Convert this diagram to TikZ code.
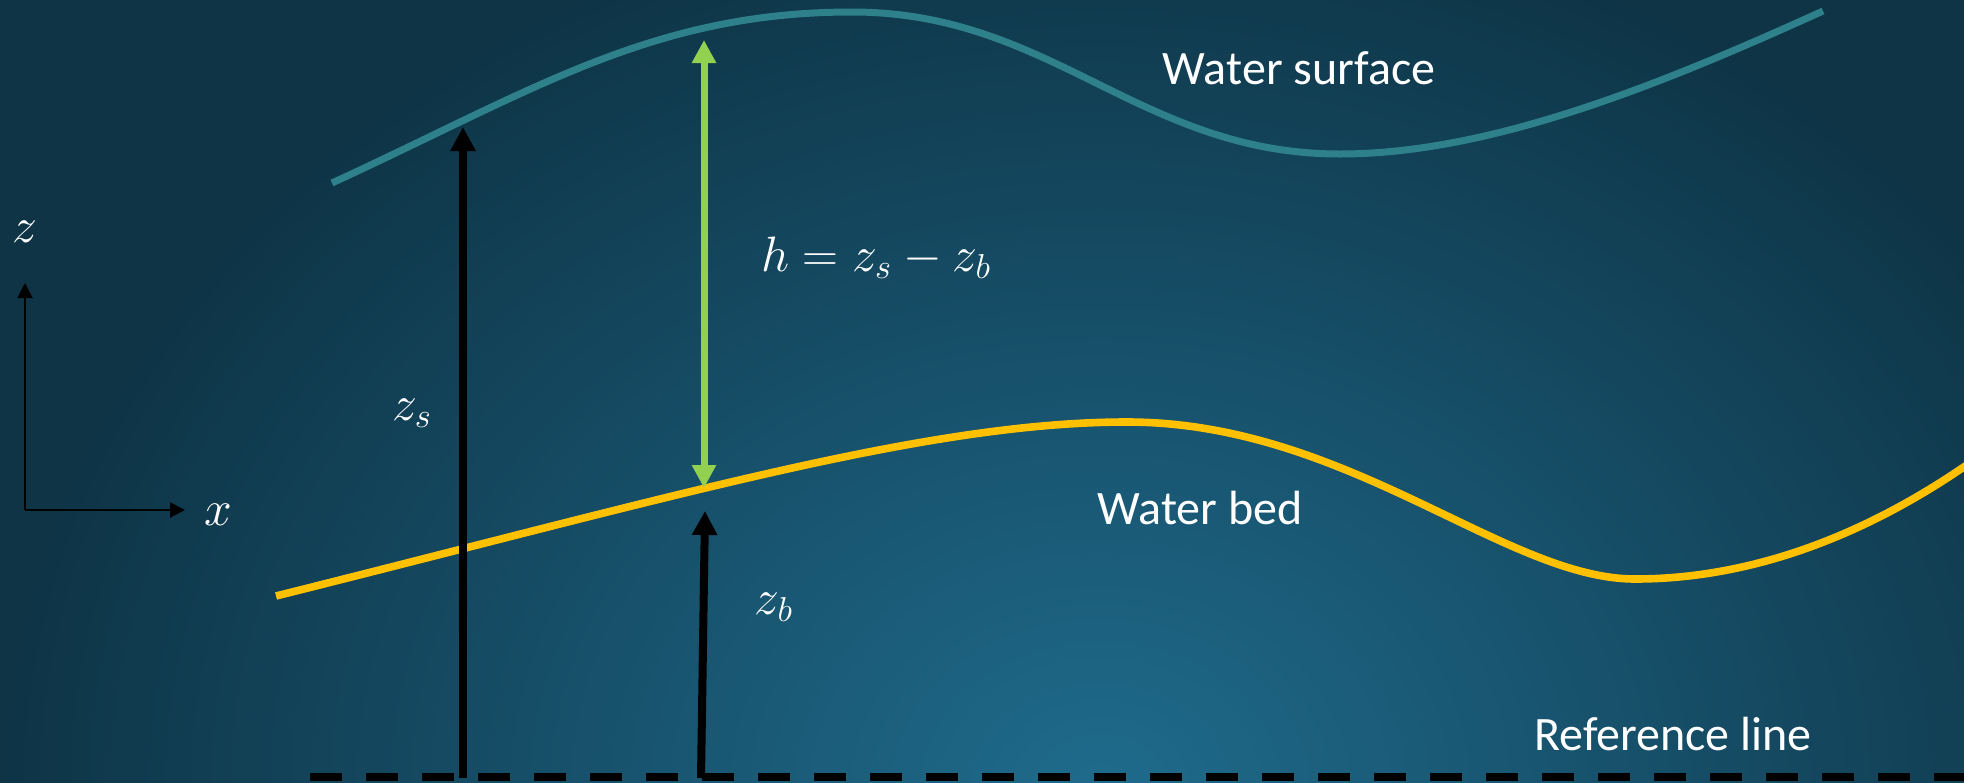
\documentclass[tikz,border=0pt]{standalone}
\usepackage{fontspec}
\setmainfont{Carlito}
\usetikzlibrary{arrows.meta}
\definecolor{bgdark}{RGB}{14,52,70}
\definecolor{bglight}{RGB}{31,107,140}
\definecolor{surfteal}{RGB}{46,128,138}
\definecolor{bedyellow}{RGB}{255,192,0}
\definecolor{hgreen}{RGB}{146,208,80}

\begin{document}
\begin{tikzpicture}[
        x=0.5pt, y=-0.5pt,
        wtext/.style={text=white, font=\fontsize{24}{28}\selectfont, anchor=base, inner sep=0pt},
        wmath/.style={text=white, font=\fontsize{25}{29}\selectfont, anchor=base, inner sep=0pt},
        surface/.style={draw=surfteal, line width=3.5pt},
        bed/.style={draw=bedyellow, line width=3.8pt},
        height/.style={-{Triangle[width=12pt, length=12pt]}, line width=4pt, draw=black},
        depth/.style={{Triangle[width=11.5pt, length=11.5pt]}-{Triangle[width=11.5pt, length=11.5pt]}, line width=3.5pt, draw=hgreen},
        axis/.style={-{Triangle[width=7.5pt, length=7.5pt]}, line width=1pt, draw=black},
        refline/.style={draw=black, line width=4pt, dash pattern=on 16pt off 12pt}
    ]
        \useasboundingbox (0,0) rectangle (1964,782);
        \begin{scope}
            \clip (0,0) rectangle (1964,782);
            \shade[inner color=bglight, outer color=bgdark] (0,-110) rectangle (2200,1690);
        \end{scope}
        \draw[surface] (332,183) .. controls (532,91) and (652,12) .. (852,12)
            .. controls (1052,12) and (1140,154) .. (1340,154)
            .. controls (1490,154) and (1660,85) .. (1823,11);
        \draw[bed] (276,596) .. controls (676,496) and (927,422) .. (1127,422)
            .. controls (1347,422) and (1505,579) .. (1635,579)
            .. controls (1765,579) and (1885,525) .. (1985,452);
        \coordinate (origin) at (25,510);
        \coordinate (zend) at (25,283);
        \coordinate (xend) at (185,510);
        \coordinate (zsbase) at (463,778);
        \coordinate (zstop) at (463,127);
        \coordinate (zbbase) at (701,778);
        \coordinate (zbtop) at (705,511);
        \coordinate (htop) at (704,40);
        \coordinate (hbot) at (704,488);
        \coordinate (refstart) at (310,777);
        \coordinate (refend) at (1964,777);
        \draw[refline] (refstart) -- (refend);
        \draw[axis] (origin) -- (zend);
        \draw[axis] (origin) -- (xend);
        \draw[height] (zsbase) -- (zstop);
        \draw[height] (zbbase) -- (zbtop);
        \draw[depth] (htop) -- (hbot);
        \node[wmath] (zlab) at (25,242) {$z$};
        \node[wmath] (xlab) at (218,525) {$x$};
        \node[wmath] (zslab) at (412,420) {$z_s$};
        \node[wmath] (zblab) at (774,614) {$z_b$};
        \node[wmath] (hlab) at (876,271) {$h = z_s - z_b$};
        \node[wtext] (surflab) at (1299,84) {Water surface};
        \node[wtext] (bedlab) at (1200,524) {Water bed};
        \node[wtext] (reflab) at (1673,750) {Reference line};
    \end{tikzpicture}
\end{document}
